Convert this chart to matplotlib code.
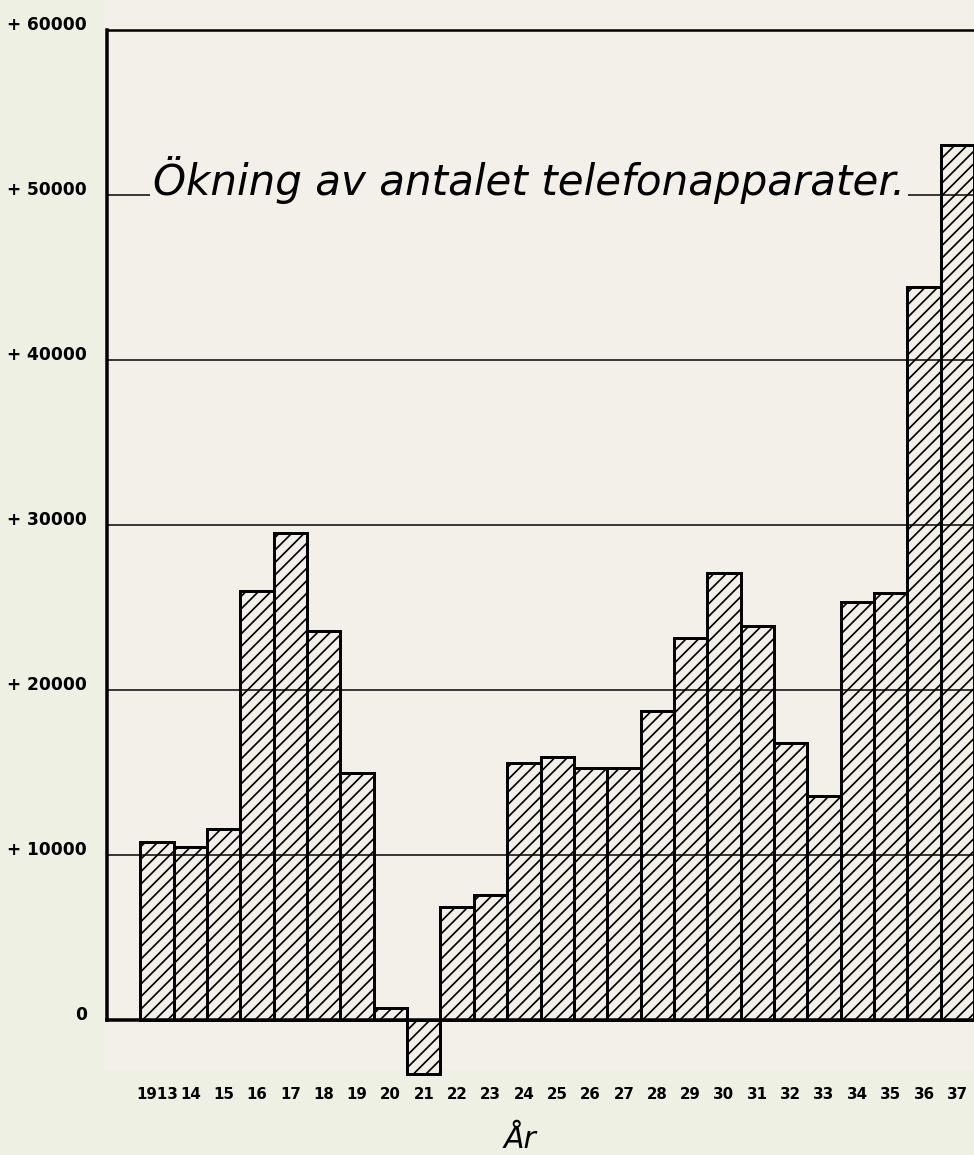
import numpy as np
import matplotlib
matplotlib.use("Agg")
import matplotlib.pyplot as plt
from matplotlib.transforms import ScaledTranslation
from matplotlib.patches import Rectangle

# yearly increase in number of telephone sets
years = ["1913", "14", "15", "16", "17", "18", "19", "20", "21", "22", "23", "24",
         "25", "26", "27", "28", "29", "30", "31", "32", "33", "34", "35", "36", "37"]
increase = [10800, 10500, 11550, 26000, 29500, 23550, 15000, 750, -3300, 6850, 7600, 15600,
            15950, 15300, 15300, 18750, 23150, 27100, 23900, 16800, 13550, 25350, 25900, 44400, 53050]
yticks = [0, 10000, 20000, 30000, 40000, 50000, 60000]
ytick_labels = ["0", "+ 10000", "+ 20000", "+ 30000", "+ 40000", "+ 50000", "+ 60000"]
title = "Ökning av antalet telefonapparater."
xlabel = "År"

DPI = 150
W, H = 974, 1155


def pt(p):
    # pixels -> points
    return p * 72.0 / DPI


paper = "#f2f0e9"
margin = "#edf0e3"

plt.rcParams["hatch.linewidth"] = pt(1.7)
plt.rcParams["hatch.color"] = "black"

fig = plt.figure(figsize=(W / DPI, H / DPI), dpi=DPI, facecolor=margin)
# the scanned page area is a bit lighter than the outer margin
fig.patches.append(Rectangle((104 / W, 1 - 1070 / H), 1 - 104 / W, 1070 / H,
                             transform=fig.transFigure, facecolor=paper,
                             edgecolor="none", zorder=-10))
ax = fig.add_axes([107 / W, 1 - 1020 / H, 1 - 107 / W, 990 / H])
ax.set_facecolor("none")

x = np.arange(len(years))
ax.bar(x, increase, width=1.0, facecolor="none", edgecolor="black",
       linewidth=pt(3), hatch="////", clip_on=False, zorder=3)

for v in yticks[1:-1]:
    ax.axhline(v, color="black", linewidth=pt(1.5), zorder=4)

ax.set_xlim(-1.5, len(years) - 0.5)
ax.set_ylim(0, 60000)

for s in ("left", "bottom"):
    ax.spines[s].set_linewidth(pt(3.5))
    ax.spines[s].set_zorder(6)
ax.spines["top"].set_linewidth(pt(2.5))
ax.spines["right"].set_visible(False)

ax.set_yticks(yticks)
ax.set_yticklabels(ytick_labels, fontsize=pt(17), fontweight="bold")
ax.tick_params(axis="y", length=0, pad=pt(20))
shift = ScaledTranslation(0, 7 / DPI, fig.dpi_scale_trans)
for lab in ax.get_yticklabels():
    lab.set_transform(lab.get_transform() + shift)

ax.set_xticks(x)
ax.set_xticklabels(years, fontsize=pt(15), fontweight="bold")
ax.tick_params(axis="x", length=0, pad=pt(67))

# title sits on the 50000 line, masking it
t = ax.text(-1.5 + (153 - 107) / 33.4, 50000, title, fontsize=30, fontstyle="italic",
            ha="left", va="baseline", zorder=5,
            bbox=dict(facecolor=paper, edgecolor="none", pad=2))
fig.canvas.draw()
w = t.get_window_extent().width
t.set_fontsize(30 * 752 / w)

fig.text(520 / W, 1 / H, xlabel, fontsize=pt(30), fontstyle="italic",
         ha="center", va="bottom")

fig.savefig("out.png", dpi=DPI, facecolor=margin)
